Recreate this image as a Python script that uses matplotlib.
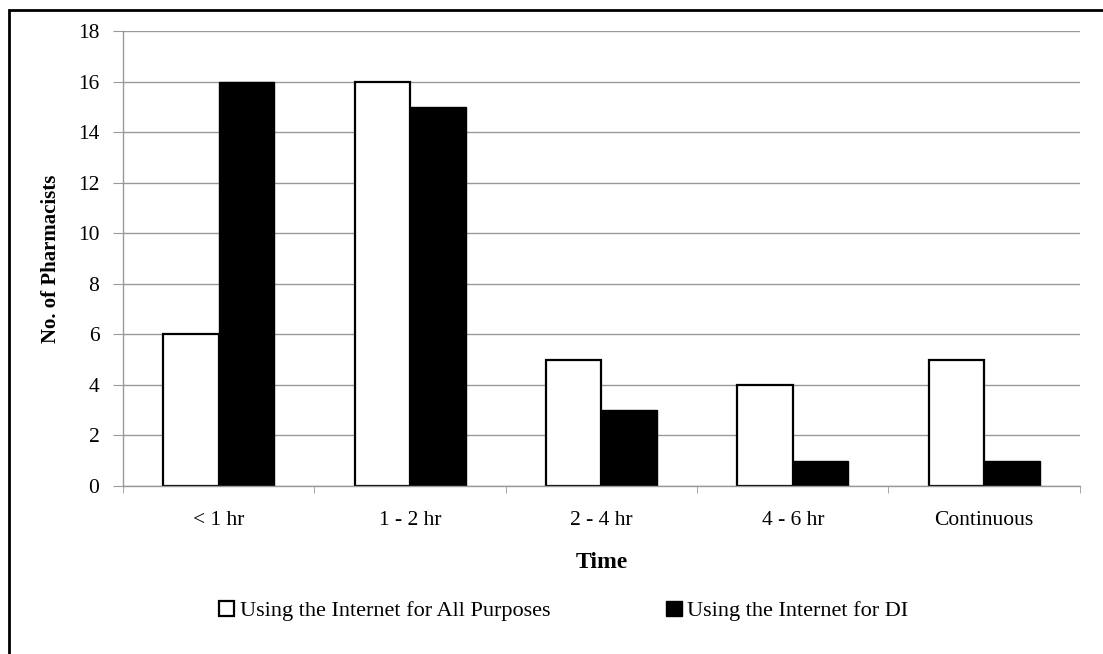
import matplotlib

matplotlib.use("Agg")
import matplotlib.pyplot as plt
import numpy as np
from matplotlib.patches import Rectangle

categories = ["< 1 hr", "1 - 2 hr", "2 - 4 hr", "4 - 6 hr", "Continuous"]
all_purposes = [6, 16, 5, 4, 5]
di_purposes = [16, 15, 3, 1, 1]
series_names = ["Using the Internet for All Purposes", "Using the Internet for DI"]

plt.rcParams["font.family"] = ["Liberation Serif", "DejaVu Serif"]


def main() -> None:
    fig = plt.figure(figsize=(11.03, 6.54), dpi=100)
    ax = fig.add_axes((0.1115, 0.2569, 0.979 - 0.1115, 0.9526 - 0.2569))

    x = np.arange(len(categories))
    width = 0.29
    ax.bar(x - width / 2, all_purposes, width, color="white", edgecolor="black",
           linewidth=1.6, label=series_names[0], zorder=3)
    ax.bar(x + width / 2, di_purposes, width, color="black", edgecolor="black",
           linewidth=1.0, label=series_names[1], zorder=3)

    ax.set_xlim(-0.5, len(categories) - 0.5)
    ax.set_ylim(0, 18)
    ax.set_yticks(range(0, 19, 2))
    ax.set_xticks(x)
    ax.set_xticklabels(categories, fontsize=15.5)
    ax.set_xticks(np.arange(-0.5, len(categories), 1), minor=True)
    ax.tick_params(axis="x", which="major", length=0, pad=18)
    ax.tick_params(axis="x", which="minor", length=5, color="#999999")
    ax.tick_params(axis="y", length=7, color="#999999", labelsize=15.5, pad=10)

    ax.grid(axis="y", color="#999999", linewidth=1.0, zorder=0)
    for side in ("top", "right"):
        ax.spines[side].set_visible(False)
    for side in ("left", "bottom"):
        ax.spines[side].set_color("#999999")
        ax.spines[side].set_linewidth(1.0)
    ax.spines["bottom"].set_zorder(4)

    ax.set_ylabel("No. of Pharmacists", fontsize=15, fontweight="bold", labelpad=12)
    ax.set_xlabel("Time", fontsize=17, fontweight="bold", labelpad=16)

    fig.legend(loc="center", bbox_to_anchor=(0.511, 1 - 611 / 654), ncol=2,
               frameon=False, fontsize=16, handlelength=0.7, handleheight=0.7,
               handletextpad=0.25, columnspacing=5.2)

    fig.patches.append(Rectangle((9 / 1103, -0.1), 1.2, 1 - 10 / 654 + 0.1,
                                 transform=fig.transFigure, fill=False,
                                 edgecolor="black", linewidth=2.0))

    fig.savefig("out.png", dpi=100)
    plt.close(fig)


if __name__ == "__main__":
    main()
